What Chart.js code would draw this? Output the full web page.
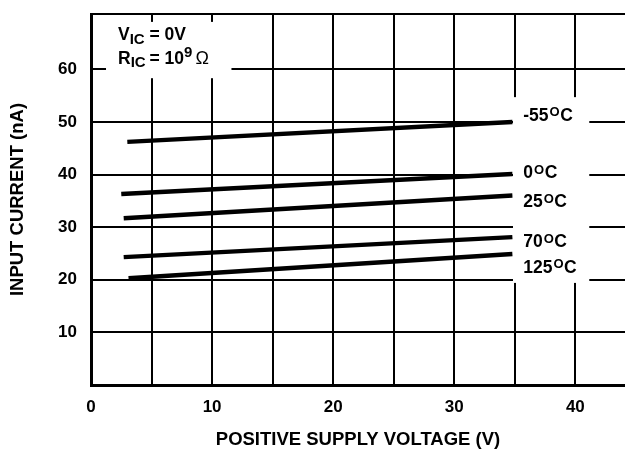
<!DOCTYPE html>
<html>
<head>
<meta charset="utf-8">
<script src="https://cdn.jsdelivr.net/npm/chart.js@4.4.1/dist/chart.umd.min.js"></script>
<style>
  html, body { margin: 0; padding: 0; background: #fff; }
  #wrap { width: 625px; height: 451px; position: relative; }
</style>
</head>
<body>
<div id="wrap"><canvas id="chart"></canvas></div>
<script>
// curves: input current vs positive supply voltage, one per temperature
const tempLabels = ['-55', '0', '25', '70', '125'];
const xStart = [3.0, 2.5, 2.7, 2.7, 3.1];
const xEnd = [34.8, 34.8, 34.8, 34.8, 34.8];
const yStart = [46.2, 36.3, 31.7, 24.3, 20.3];
const yEnd = [50.0, 40.1, 36.0, 28.1, 24.9];
// baseline of each temperature label (nA)
const labelY = [50.2, 39.3, 33.8, 26.2, 21.3];
const labelX = 35.7;

const xGrid = [0, 5, 10, 15, 20, 25, 30, 35, 40];
const xTickLabels = [0, 10, 20, 30, 40];
const yGrid = [0, 10, 20, 30, 40, 50, 60, 70.5];
const yTickLabels = [10, 20, 30, 40, 50, 60];

const FONT = '"Liberation Sans", Arial, sans-serif';

const datasets = tempLabels.map((t, i) => ({
  label: t + '°C',
  data: [{ x: xStart[i], y: yStart[i] }, { x: xEnd[i], y: yEnd[i] }],
  borderColor: '#000',
  borderWidth: 4.5,
  pointRadius: 0,
  showLine: true,
  fill: false,
}));

// white patches behind the notes, then the notes themselves
const notes = {
  id: 'notes',
  beforeDatasetsDraw(chart) {
    const { ctx, scales: { x, y } } = chart;
    ctx.save();
    ctx.fillStyle = '#fff';
    const box = (x0, x1, y0, y1) => {
      const px0 = x.getPixelForValue(x0), px1 = x.getPixelForValue(x1);
      const py0 = y.getPixelForValue(y0), py1 = y.getPixelForValue(y1);
      ctx.fillRect(px0, py0, px1 - px0, py1 - py0);
    };
    box(1.24, 11.6, 69.0, 58.3);
    box(34.85, 41.15, 54.7, 19.4);
    ctx.restore();
  },
  afterDatasetsDraw(chart) {
    const { ctx, scales: { x, y } } = chart;
    ctx.save();
    ctx.fillStyle = '#000';
    ctx.textBaseline = 'alphabetic';
    ctx.textAlign = 'left';

    const put = (txt, px, py, font) => {
      ctx.font = font;
      ctx.fillText(txt, px, py);
      return px + ctx.measureText(txt).width;
    };
    const big = 'bold 17.5px ' + FONT;
    const sup = 'bold 13px ' + FONT;
    const sub = 'bold 15px ' + FONT;

    tempLabels.forEach((t, i) => {
      const px = x.getPixelForValue(labelX);
      const py = y.getPixelForValue(labelY[i]);
      let cx = put(t, px, py, big);
      cx = put('O', cx + 1, py - 4.5, sup);
      put('C', cx + 0.5, py, big);
    });

    // V_IC = 0V / R_IC = 10^9 Ω
    let ax = 118, ay = 40;
    ax = put('V', ax, ay, big);
    ax = put('IC', ax, ay + 3.5, sub);
    put(' = 0V', ax, ay, big);
    ax = 118; ay = 64;
    ax = put('R', ax, ay, big);
    ax = put('IC', ax, ay + 3, sub);
    ax = put(' = 10', ax - 1, ay, big);
    ax = put('9', ax, ay - 7.5, 'bold 15px ' + FONT);
    put('Ω', ax + 3, ay, '18px ' + FONT);
    ctx.restore();
  },
};

new Chart(document.getElementById('chart'), {
  type: 'scatter',
  data: { datasets },
  options: {
    responsive: true,
    maintainAspectRatio: false,
    animation: false,
    layout: { padding: { top: 14, right: 0, bottom: 0, left: 0 } },
    plugins: { legend: { display: false }, tooltip: { enabled: false } },
    scales: {
      x: {
        type: 'linear',
        min: 0,
        max: 44.1,
        afterFit(s) { s.height = 66; s.paddingLeft = 0; s.paddingRight = 0; },
        afterBuildTicks(s) { s.ticks = xGrid.map(v => ({ value: v })); },
        grid: { color: '#000', lineWidth: 2, drawTicks: false },
        border: { display: true, color: '#000', width: 3 },
        ticks: {
          autoSkip: false,
          maxRotation: 0,
          padding: 12,
          color: '#000',
          font: { family: FONT, size: 17, weight: 'bold' },
          callback: v => (xTickLabels.includes(v) ? String(v) : ''),
        },
        title: {
          display: true,
          text: 'POSITIVE SUPPLY VOLTAGE (V)',
          color: '#000',
          padding: { top: -1, bottom: 0 },
          font: { family: FONT, size: 18.5, weight: 'bold' },
        },
      },
      y: {
        min: 0,
        max: 70.5,
        afterFit(s) { s.width = 91; s.paddingTop = 0; s.paddingBottom = 0; },
        afterBuildTicks(s) { s.ticks = yGrid.map(v => ({ value: v })); },
        grid: { color: '#000', lineWidth: 2, drawTicks: false },
        border: { display: true, color: '#000', width: 3 },
        ticks: {
          autoSkip: false,
          padding: 14,
          color: '#000',
          font: { family: FONT, size: 17, weight: 'bold' },
          callback: v => (yTickLabels.includes(v) ? String(v) : ''),
        },
        title: {
          display: true,
          text: 'INPUT CURRENT (nA)',
          color: '#000',
          padding: { top: 6.5, bottom: 0 },
          font: { family: FONT, size: 18.5, weight: 'bold' },
        },
      },
    },
  },
  plugins: [notes],
});
</script>
</body>
</html>
